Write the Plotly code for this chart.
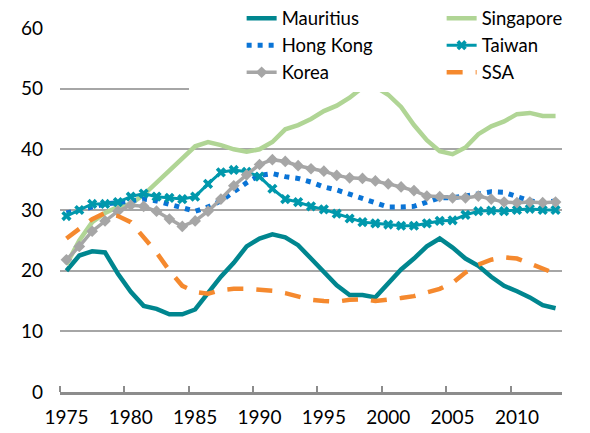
import plotly.graph_objects as go

years = list(range(1975, 2014))

mauritius = [20.0, 22.5, 23.2, 23.0, 19.5, 16.5, 14.2, 13.7, 12.8, 12.8,
             13.6, 16.3, 19.0, 21.3, 24.0, 25.3, 26.0, 25.5, 24.2, 22.0,
             19.8, 17.6, 16.0, 16.0, 15.6, 18.0, 20.2, 22.0, 24.0, 25.3,
             23.8, 22.0, 20.8, 19.0, 17.5, 16.6, 15.6, 14.3, 13.8]
singapore = [21.0, 25.0, 28.0, 29.5, 30.5, 31.0, 32.5, 34.5, 36.5, 38.5,
             40.5, 41.2, 40.7, 40.0, 39.6, 40.0, 41.2, 43.3, 44.0, 45.0,
             46.3, 47.2, 48.5, 50.2, 50.3, 49.0, 47.0, 44.0, 41.5, 39.7,
             39.2, 40.3, 42.5, 43.8, 44.6, 45.8, 46.0, 45.5, 45.5]
hong_kong = [29.5, 30.0, 30.5, 31.0, 31.2, 31.5, 31.8, 31.5, 31.0, 30.3,
             29.8, 30.5, 31.5, 33.0, 34.5, 35.7, 36.0, 35.5, 35.2, 34.6,
             33.8, 33.3, 32.6, 31.8, 31.0, 30.5, 30.5, 30.6, 31.3, 32.0,
             32.0, 32.3, 32.7, 33.0, 32.9, 32.3, 31.5, 31.2, 31.5]
taiwan = [29.0, 30.0, 31.0, 31.0, 31.3, 32.2, 32.7, 32.2, 32.0, 31.8,
          32.2, 34.3, 36.2, 36.6, 36.3, 35.5, 33.5, 31.8, 31.3, 30.6,
          30.1, 29.4, 28.6, 28.0, 27.8, 27.6, 27.4, 27.4, 27.8, 28.2,
          28.3, 29.2, 29.8, 29.9, 29.8, 30.0, 30.2, 30.0, 30.0]
korea = [21.8, 24.0, 26.5, 28.2, 29.8, 30.8, 30.6, 29.8, 28.5, 27.3,
         28.2, 29.8, 31.8, 34.0, 35.8, 37.5, 38.3, 38.0, 37.3, 36.8,
         36.4, 35.7, 35.3, 35.2, 34.8, 34.3, 33.8, 33.2, 32.3, 32.2,
         32.0, 32.0, 32.3, 31.8, 31.3, 31.2, 31.3, 31.2, 31.3]
ssa = [25.3, 27.0, 28.5, 29.5, 29.0, 28.0, 25.5, 23.0, 20.0, 17.5,
       16.5, 16.2, 16.8, 17.0, 17.0, 16.8, 16.7, 16.3, 15.7, 15.2,
       15.0, 14.9, 15.2, 15.3, 15.0, 15.2, 15.5, 15.8, 16.4, 17.0,
       18.0, 19.7, 21.0, 21.8, 22.2, 22.0, 21.2, 20.3, 19.5]

label_years = [1975, 1980, 1985, 1990, 1995, 2000, 2005, 2010]
tick_bounds = [1974.5, 1979.5, 1984.5, 1989.5, 1994.5, 1999.5, 2004.5, 2009.5]
y_ticks = [0, 10, 20, 30, 40, 50, 60]

FONT = "Lato"
fig = go.Figure()

fig.add_trace(go.Scatter(x=years, y=mauritius, name="Mauritius", mode="lines",
                         line=dict(color="#00868F", width=4.5)))
fig.add_trace(go.Scatter(x=years, y=singapore, name="Singapore", mode="lines",
                         line=dict(color="#B0D595", width=4.5)))
fig.add_trace(go.Scatter(x=years, y=hong_kong, name="Hong Kong", mode="lines",
                         line=dict(color="#0A74D6", width=5, dash="5px,6px")))
fig.add_trace(go.Scatter(x=years, y=taiwan, name="Taiwan", mode="lines+markers",
                         line=dict(color="#0098AC", width=3),
                         marker=dict(symbol="x", size=9, color="#0098AC")))
fig.add_trace(go.Scatter(x=years, y=korea, name="Korea", mode="lines+markers",
                         line=dict(color="#A6A6A6", width=3.5),
                         marker=dict(symbol="diamond", size=9, color="#A6A6A6")))
fig.add_trace(go.Scatter(x=years, y=ssa, name="SSA", mode="lines",
                         line=dict(color="#F5892E", width=4.5, dash="16px,13px")))

fig.update_layout(
    width=590, height=433,
    margin=dict(l=60, r=28, t=28, b=41, autoexpand=False),
    paper_bgcolor="white", plot_bgcolor="white",
    font=dict(family=FONT, size=19, color="black"),
    legend=dict(orientation="h", x=0.257, xanchor="left", y=1.078, yanchor="top",
                entrywidth=155, entrywidthmode="pixels",
                title=dict(text="\u00a0" * 9, side="left", font=dict(size=18.5)),
                bgcolor="white", font=dict(family=FONT, size=18.5),
                traceorder="normal"),
    xaxis=dict(range=[1974.5, 2013.5], tickmode="array", tickvals=label_years,
               ticktext=[str(v) for v in label_years], ticks="", showgrid=False,
               showline=True, linecolor="#8C8C8C", linewidth=2.5,
               zeroline=False, ticklabelstandoff=6,
               minor=dict(tickmode="array", tickvals=tick_bounds, ticks="inside",
                          ticklen=6, tickwidth=2, tickcolor="#8C8C8C", showgrid=False)),
    yaxis=dict(range=[0, 60], tickmode="array", tickvals=y_ticks,
               showgrid=True, gridcolor="#A6A6A6", gridwidth=1.5,
               zeroline=False, showline=False, ticks="", ticklabelstandoff=16),
)

fig.write_html("out.html", config={"displayModeBar": False},
               post_script="document.body.style.margin='0px';")
